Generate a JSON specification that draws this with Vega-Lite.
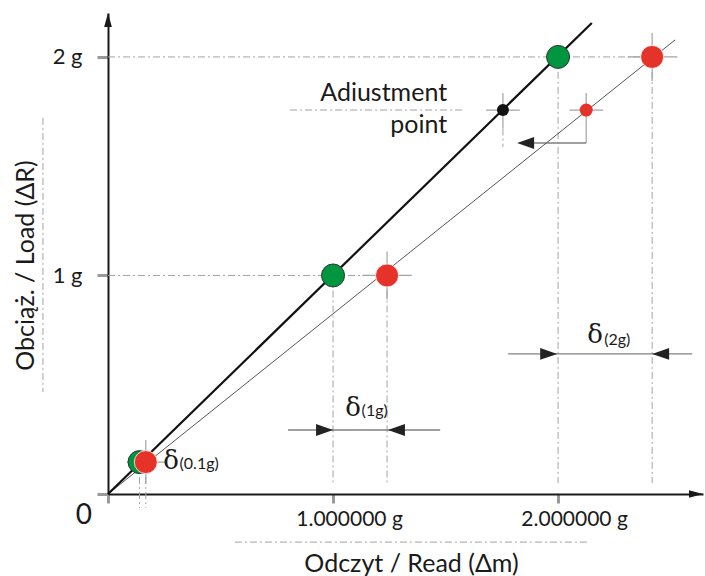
{
  "$schema": "https://vega.github.io/schema/vega-lite/v6.json",
  "width": 595,
  "height": 481,
  "autosize": {"type": "none"},
  "padding": {"left": 108, "top": 13, "right": 2, "bottom": 82},
  "background": "white",
  "config": {"view": {"stroke": null}, "font": "Lato"},
  "datasets": {
    "guides": [
      {"x": 0, "y": 2, "x2": 2.418, "y2": 2},
      {"x": 0, "y": 1, "x2": 1.24, "y2": 1},
      {"x": 1, "y": 1, "x2": 1, "y2": 0.05},
      {"x": 1.24, "y": 1, "x2": 1.24, "y2": 0.05},
      {"x": 2, "y": 2, "x2": 2, "y2": 0.05},
      {"x": 2.418, "y": 2, "x2": 2.418, "y2": 0.05},
      {"x": 0.14, "y": 0.146, "x2": 0.14, "y2": -0.064},
      {"x": 0.168, "y": 0.146, "x2": 0.168, "y2": -0.064},
      {"x": 0.809, "y": 1.757, "x2": 1.587, "y2": 1.757},
      {"x": 1.755, "y": 1.672, "x2": 1.755, "y2": 1.588},
      {"x": -0.289, "y": 1.721, "x2": -0.289, "y2": 0.467},
      {"x": 0.564, "y": -0.22, "x2": 2.129, "y2": -0.22}
    ],
    "crosses": [
      {"x": 0.084, "y": 0.146, "x2": 0.262, "y2": 0.146},
      {"x": 0.168, "y": 0.247, "x2": 0.168, "y2": 0.046},
      {"x": 1.13, "y": 1, "x2": 1.35, "y2": 1},
      {"x": 1.24, "y": 1.11, "x2": 1.24, "y2": 0.89},
      {"x": 2.31, "y": 2, "x2": 2.53, "y2": 2},
      {"x": 2.418, "y": 2.11, "x2": 2.418, "y2": 1.89},
      {"x": 1.68, "y": 1.757, "x2": 1.83, "y2": 1.757},
      {"x": 1.755, "y": 1.835, "x2": 1.755, "y2": 1.672},
      {"x": 2.05, "y": 1.757, "x2": 2.2, "y2": 1.757},
      {"x": 2.125, "y": 1.835, "x2": 2.125, "y2": 1.606}
    ],
    "dims": [
      {"x": 0.8, "y": 0.293, "x2": 1.476, "y2": 0.293},
      {"x": 1.778, "y": 0.641, "x2": 2.596, "y2": 0.641},
      {"x": 1.83, "y": 1.606, "x2": 2.125, "y2": 1.606}
    ],
    "thinLine": [{"x": 0, "y": 0, "x2": 2.52, "y2": 2.078}],
    "thickLine": [{"x": 0, "y": 0, "x2": 2.15, "y2": 2.155}],
    "green": [{"x": 0.14, "y": 0.146}, {"x": 1, "y": 1}, {"x": 2, "y": 2}],
    "red": [{"x": 0.168, "y": 0.146}, {"x": 1.24, "y": 1}, {"x": 2.418, "y": 2}],
    "adjBlack": [{"x": 1.755, "y": 1.757}],
    "adjRed": [{"x": 2.125, "y": 1.757}],
    "tipRight": [{"x": 1.0, "y": 0.293}, {"x": 1.996, "y": 0.641}],
    "tipLeft": [{"x": 1.244, "y": 0.293}, {"x": 2.418, "y": 0.641}, {"x": 1.818, "y": 1.606}],
    "axisUp": [{"x": 0, "y": 2.201}],
    "axisRight": [{"x": 2.644, "y": 0}],
    "deltas": [
      {"x": 0.28, "y": 0.149, "t": "δ"},
      {"x": 1.089, "y": 0.394, "t": "δ"},
      {"x": 2.164, "y": 0.728, "t": "δ"}
    ],
    "subs": [
      {"x": 0.318, "y": 0.137, "t": "(0.1g)"},
      {"x": 1.127, "y": 0.378, "t": "(1g)"},
      {"x": 2.205, "y": 0.705, "t": "(2g)"}
    ],
    "adjText": [
      {"x": 1.507, "y": 1.799, "t": "Adiustment"},
      {"x": 1.507, "y": 1.652, "t": "point"}
    ],
    "zero": [{"x": -0.107, "y": -0.1, "t": "0"}]
  },
  "encoding": {
    "x": {
      "field": "x",
      "type": "quantitative",
      "scale": {"domain": [0, 2.644], "nice": false, "zero": false},
      "axis": {
        "title": "Odczyt / Read (Δm)",
        "values": [0, 1, 2],
        "labelExpr": "datum.value == 0 ? '' : format(datum.value, '.6f') + ' g'",
        "grid": false,
        "domainColor": "#1a1a1a",
        "domainWidth": 2,
        "tickColor": "#9a9a9a",
        "tickWidth": 3,
        "tickSize": 9,
        "labelFont": "Lato",
        "labelFontSize": 21,
        "labelColor": "#1a1a1a",
        "labelPadding": 5,
        "labelOffset": 16,
        "labelOverlap": false,
        "labelFlush": false,
        "titleFont": "Lato",
        "titleFontSize": 25,
        "titleFontWeight": "normal",
        "titleColor": "#1a1a1a",
        "titleX": 303,
        "titleY": 69,
        "titleBaseline": "middle",
        "titleAlign": "center"
      }
    },
    "y": {
      "field": "y",
      "type": "quantitative",
      "scale": {"domain": [0, 2.201], "nice": false, "zero": false},
      "axis": {
        "title": "Obciąż. / Load (ΔR)",
        "values": [0, 1, 2],
        "labelExpr": "datum.value == 0 ? '' : datum.value + ' g'",
        "grid": false,
        "domainColor": "#1a1a1a",
        "domainWidth": 2,
        "tickColor": "#9a9a9a",
        "tickWidth": 3,
        "tickSize": 11,
        "labelFont": "Lato",
        "labelFontSize": 22,
        "labelColor": "#1a1a1a",
        "labelPadding": 15,
        "labelOverlap": false,
        "labelFlush": false,
        "titleFont": "Lato",
        "titleFontSize": 25,
        "titleFontWeight": "normal",
        "titleColor": "#1a1a1a",
        "titleX": -83,
        "titleY": 252,
        "titleAngle": 270,
        "titleBaseline": "middle",
        "titleAlign": "center"
      }
    }
  },
  "layer": [
    {"data": {"name": "guides"}, "mark": {"type": "rule", "color": "#a3a3a3", "strokeWidth": 1, "strokeDash": [7, 3, 2, 3]}, "encoding": {"x2": {"field": "x2"}, "y2": {"field": "y2"}}},
    {"data": {"name": "crosses"}, "mark": {"type": "rule", "color": "#a3a3a3", "strokeWidth": 1.2}, "encoding": {"x2": {"field": "x2"}, "y2": {"field": "y2"}}},
    {"data": {"name": "dims"}, "mark": {"type": "rule", "color": "#808080", "strokeWidth": 1.4}, "encoding": {"x2": {"field": "x2"}, "y2": {"field": "y2"}}},
    {"data": {"name": "thinLine"}, "mark": {"type": "rule", "color": "#555555", "strokeWidth": 1}, "encoding": {"x2": {"field": "x2"}, "y2": {"field": "y2"}}},
    {"data": {"name": "thickLine"}, "mark": {"type": "rule", "color": "#111111", "strokeWidth": 2.2}, "encoding": {"x2": {"field": "x2"}, "y2": {"field": "y2"}}},
    {"data": {"name": "green"}, "mark": {"type": "circle", "size": 529, "fill": "#00953f", "stroke": "#333333", "strokeWidth": 1, "opacity": 1}},
    {"data": {"name": "red"}, "mark": {"type": "circle", "size": 529, "fill": "#e5332a", "stroke": "#ffffff", "strokeWidth": 0.8, "opacity": 1}},
    {"data": {"name": "adjBlack"}, "mark": {"type": "circle", "size": 144, "fill": "#111111", "opacity": 1}},
    {"data": {"name": "adjRed"}, "mark": {"type": "circle", "size": 169, "fill": "#e5332a", "opacity": 1}},
    {"data": {"name": "tipRight"}, "mark": {"type": "point", "shape": "M0,0L-2,-0.7L-2,0.7Z", "size": 289, "filled": true, "fill": "#222222", "strokeWidth": 0, "opacity": 1}},
    {"data": {"name": "tipLeft"}, "mark": {"type": "point", "shape": "M0,0L2,-0.7L2,0.7Z", "size": 289, "filled": true, "fill": "#222222", "strokeWidth": 0, "opacity": 1}},
    {"data": {"name": "axisUp"}, "mark": {"type": "point", "shape": "M0,0L-0.55,2L0.55,2Z", "size": 196, "filled": true, "fill": "#1a1a1a", "strokeWidth": 0, "opacity": 1}},
    {"data": {"name": "axisRight"}, "mark": {"type": "point", "shape": "M0,0L-2,-0.55L-2,0.55Z", "size": 196, "filled": true, "fill": "#1a1a1a", "strokeWidth": 0, "opacity": 1}},
    {"data": {"name": "deltas"}, "mark": {"type": "text", "font": "DejaVu Serif", "fontSize": 26, "align": "center", "baseline": "middle", "color": "#1a1a1a"}, "encoding": {"text": {"field": "t"}}},
    {"data": {"name": "subs"}, "mark": {"type": "text", "font": "Lato", "fontSize": 16, "align": "left", "baseline": "middle", "color": "#1a1a1a"}, "encoding": {"text": {"field": "t"}}},
    {"data": {"name": "adjText"}, "mark": {"type": "text", "font": "Lato", "fontSize": 25, "align": "right", "baseline": "alphabetic", "color": "#1a1a1a"}, "encoding": {"text": {"field": "t"}}},
    {"data": {"name": "zero"}, "mark": {"type": "text", "font": "Lato", "fontSize": 28, "align": "center", "baseline": "middle", "color": "#1a1a1a"}, "encoding": {"text": {"field": "t"}}}
  ]
}
